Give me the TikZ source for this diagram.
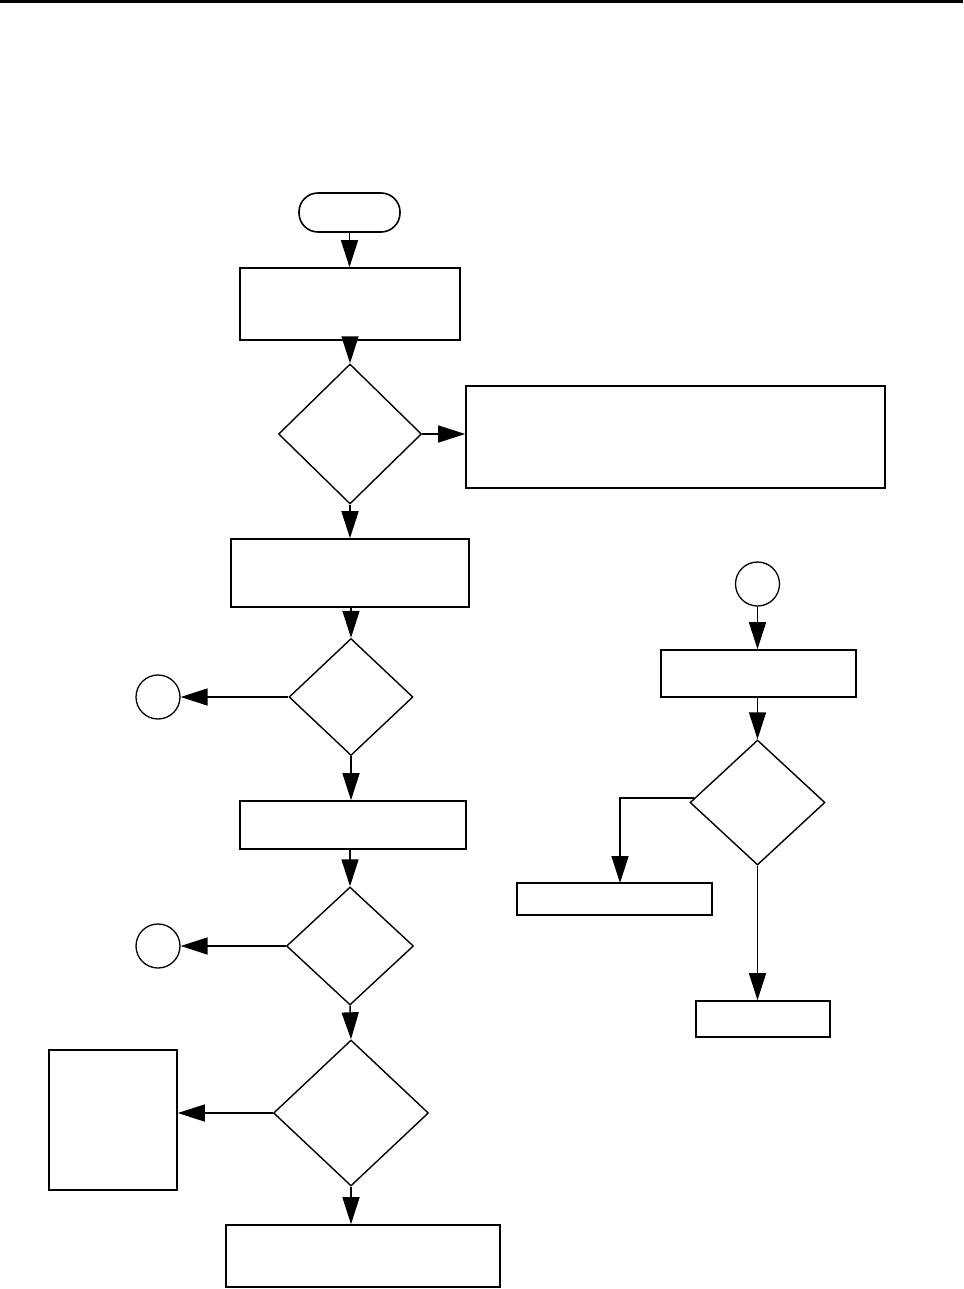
\documentclass[tikz,border=0pt]{standalone}
\usetikzlibrary{shapes.geometric,arrows.meta}
\begin{document}
\begin{tikzpicture}[x=1pt,y=-1pt,
  box/.style={draw,line width=1.6pt,rectangle,inner sep=0pt},
  dec/.style={draw,line width=1.4pt,diamond,inner sep=0pt},
  conn/.style={draw,line width=1.3pt,circle,inner sep=0pt,minimum size=44pt},
  arr/.style={line width=1.5pt,-{Triangle[length=27pt,width=17pt]}}
]
\useasboundingbox (0,0) rectangle (963,1289);
\draw[line width=2.5pt] (0,1.5) -- (963,1.5);

% main column
\node[box,minimum width=101pt,minimum height=39pt,rounded corners=19pt] (start) at (349.5,212.5) {};
\node[box,minimum width=220pt,minimum height=72pt] (b1) at (350,304) {};
\node[dec,minimum width=143pt,minimum height=140pt] (d1) at (350,434) {};
\node[box,minimum width=419pt,minimum height=102pt] (bR) at (675.5,437) {};
\node[box,minimum width=238pt,minimum height=68pt] (b2) at (350,573) {};
\node[dec,minimum width=124pt,minimum height=117pt] (d2) at (351,697) {};
\node[conn] (c1) at (158,697) {};
\node[box,minimum width=226pt,minimum height=48pt] (b3) at (353,825) {};
\node[dec,minimum width=127pt,minimum height=118pt] (d3) at (350,946) {};
\node[conn] (c2) at (158,946) {};
\node[dec,minimum width=155pt,minimum height=146pt] (d4) at (351,1113) {};
\node[box,minimum width=128pt,minimum height=140pt] (bL) at (113,1120) {};
\node[box,minimum width=274pt,minimum height=62pt] (b4) at (363,1256) {};

% right column
\node[conn] (c3) at (757.5,584) {};
\node[box,minimum width=195pt,minimum height=47pt] (r1) at (758.5,673.5) {};
\node[dec,minimum width=135pt,minimum height=125pt] (dR) at (757.5,802.5) {};
\node[box,minimum width=195pt,minimum height=32pt] (r2) at (614.5,899) {};
\node[box,minimum width=134pt,minimum height=36pt] (r3) at (763,1019) {};
\coordinate (r2in) at (620,883);

\draw[arr] (start.south) -- (start.south |- b1.north);
\draw[arr] (b1.south) -- (d1.north);
\draw[arr] (d1.east) -- (d1.east -| bR.west);
\draw[arr] (d1.south) -- (d1.south |- b2.north);
\draw[arr] (b2.south -| d2.north) -- (d2.north);
\draw[arr] (d2.west) -- (c1.east);
\draw[arr] (d2.south) -- (d2.south |- b3.north);
\draw[arr] (b3.south -| d3.north) -- (d3.north);
\draw[arr] (d3.west) -- (c2.east);
\draw[arr] (d3.south) -- (d4.north);
\draw[arr] (d4.west) -- (d4.west -| bL.east);
\draw[arr] (d4.south) -- (d4.south |- b4.north);

\draw[arr] (c3.south) -- (c3.south |- r1.north);
\draw[arr] (r1.south -| dR.north) -- (dR.north);
\draw[arr] (dR.176) -| (r2in);
\draw[arr] (dR.south) -- (dR.south |- r3.north);
\end{tikzpicture}
\end{document}
